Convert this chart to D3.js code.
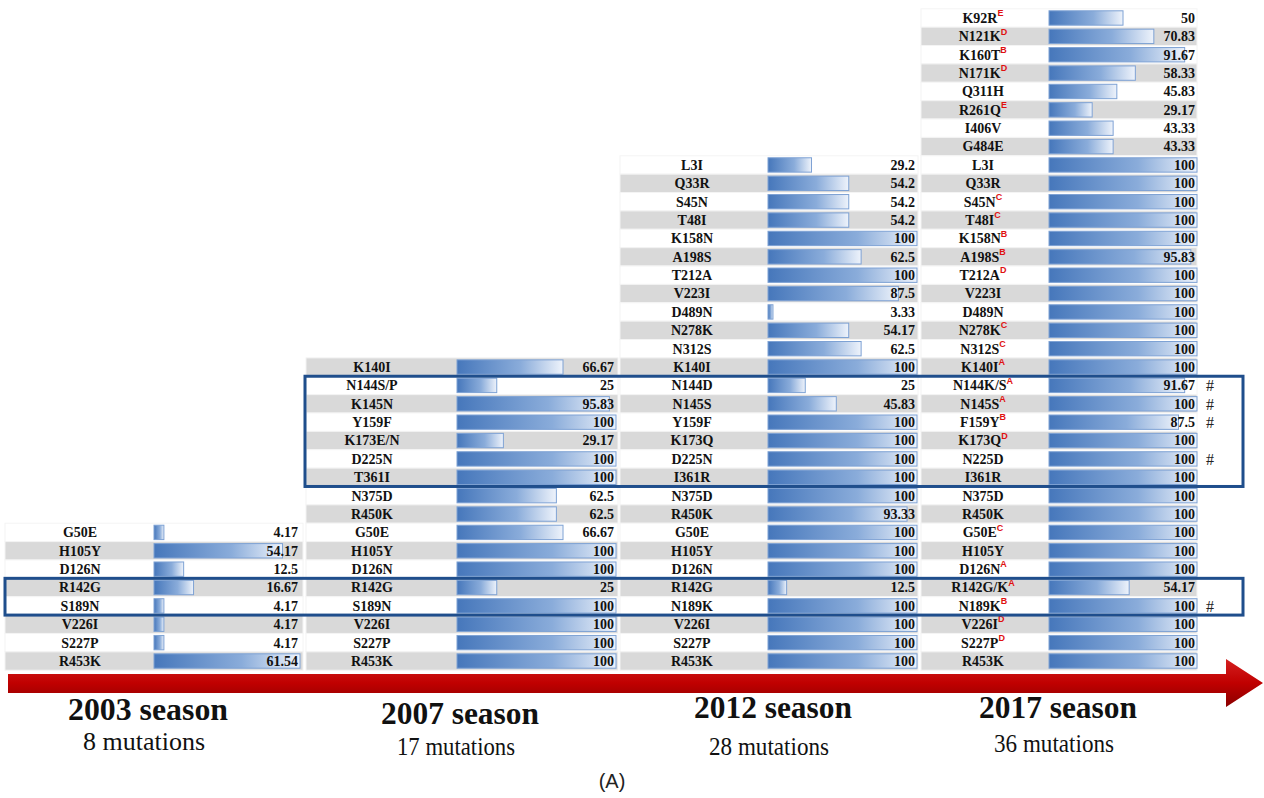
<!DOCTYPE html>
<html lang="en">
<head>
    <meta charset="UTF-8">
    <title>Mutations by season</title>
    <script src="https://d3js.org/d3.v7.min.js"></script>
    <style>
        body { margin: 0; background: #fff; }
        .lbl { font: bold 14px "Liberation Serif", "Times New Roman", serif; fill: #111; }
        .val { font: bold 14px "Liberation Serif", "Times New Roman", serif; fill: #111; }
        .sup { font: bold 9px "Liberation Sans", Arial, sans-serif; fill: #e01010; }
        .season { font: bold 31px "Liberation Serif", serif; fill: #111; }
        .count { font: 25px "Liberation Serif", serif; fill: #111; }
    </style>
</head>
<body>
<div id="chart"></div>
<script>
// ---- data ----
var seasons = ["2003 season", "2007 season", "2012 season", "2017 season"];
var mutationCounts = ["8 mutations", "17 mutations", "28 mutations", "36 mutations"];

var labels2003 = ["G50E", "H105Y", "D126N", "R142G", "S189N", "V226I", "S227P", "R453K"];
var values2003 = [4.17, 54.17, 12.5, 16.67, 4.17, 4.17, 4.17, 61.54];

var labels2007 = ["K140I", "N144S/P", "K145N", "Y159F", "K173E/N", "D225N", "T361I", "N375D", "R450K",
    "G50E", "H105Y", "D126N", "R142G", "S189N", "V226I", "S227P", "R453K"];
var values2007 = [66.67, 25, 95.83, 100, 29.17, 100, 100, 62.5, 62.5, 66.67, 100, 100, 25, 100, 100, 100, 100];

var labels2012 = ["L3I", "Q33R", "S45N", "T48I", "K158N", "A198S", "T212A", "V223I", "D489N", "N278K", "N312S",
    "K140I", "N144D", "N145S", "Y159F", "K173Q", "D225N", "I361R", "N375D", "R450K", "G50E", "H105Y", "D126N",
    "R142G", "N189K", "V226I", "S227P", "R453K"];
var values2012 = [29.2, 54.2, 54.2, 54.2, 100, 62.5, 100, 87.5, 3.33, 54.17, 62.5, 100, 25, 45.83, 100, 100, 100,
    100, 100, 93.33, 100, 100, 100, 12.5, 100, 100, 100, 100];

var labels2017 = ["K92R", "N121K", "K160T", "N171K", "Q311H", "R261Q", "I406V", "G484E", "L3I", "Q33R", "S45N",
    "T48I", "K158N", "A198S", "T212A", "V223I", "D489N", "N278K", "N312S", "K140I", "N144K/S", "N145S", "F159Y",
    "K173Q", "N225D", "I361R", "N375D", "R450K", "G50E", "H105Y", "D126N", "R142G/K", "N189K", "V226I", "S227P", "R453K"];
var values2017 = [50, 70.83, 91.67, 58.33, 45.83, 29.17, 43.33, 43.33, 100, 100, 100, 100, 100, 95.83, 100, 100,
    100, 100, 100, 100, 91.67, 100, 87.5, 100, 100, 100, 100, 100, 100, 100, 100, 54.17, 100, 100, 100, 100];
var sites2017 = ["E", "D", "B", "D", "", "E", "", "", "", "", "C", "C", "B", "B", "D", "", "", "C", "C", "A",
    "A", "A", "B", "D", "", "", "", "", "C", "", "A", "A", "B", "D", "D", ""];
var hashed2017 = ["N144K/S", "N145S", "F159Y", "N225D", "N189K"];

// highlight boxes: first/last 2017 row, first season column covered
var boxRows = [["N144K/S", "I361R"], ["R142G/K", "N189K"]];
var boxFirstSeason = [1, 0];

// ---- layout ----
var W = 1264, H = 798;
var cols = [
    {x0: 5,   x1: 303,  labelX: 80,  barX: 154,  barW: 146},
    {x0: 306, x1: 618,  labelX: 372, barX: 457,  barW: 159},
    {x0: 620, x1: 918,  labelX: 692, barX: 768,  barW: 149},
    {x0: 921, x1: 1197, labelX: 983, barX: 1049, barW: 148}
];
var colData = [
    {labels: labels2003, values: values2003},
    {labels: labels2007, values: values2007},
    {labels: labels2012, values: values2012},
    {labels: labels2017, values: values2017, sites: sites2017}
];
var nSlots = labels2017.length;

var svg = d3.select("#chart").append("svg")
    .attr("width", W).attr("height", H);

var defs = svg.append("defs");
var grad = defs.append("linearGradient").attr("id", "barGrad")
    .attr("x1", "0%").attr("x2", "100%").attr("y1", "0%").attr("y2", "0%");
grad.append("stop").attr("offset", "0%").attr("stop-color", "#4677bb");
grad.append("stop").attr("offset", "60%").attr("stop-color", "#8aacda");
grad.append("stop").attr("offset", "100%").attr("stop-color", "#eef3fb");

var arrowGrad = defs.append("linearGradient").attr("id", "arrowGrad")
    .attr("x1", "0%").attr("x2", "0%").attr("y1", "0%").attr("y2", "100%");
arrowGrad.append("stop").attr("offset", "0%").attr("stop-color", "#d42020");
arrowGrad.append("stop").attr("offset", "50%").attr("stop-color", "#c00000");
arrowGrad.append("stop").attr("offset", "100%").attr("stop-color", "#8a0000");

var y = d3.scaleBand()
    .domain(d3.range(nSlots))
    .range([8.8, 670.2]);

cols.forEach(function(c, ci) {
    var d = colData[ci];
    var n = d.labels.length;
    var offset = nSlots - n;
    var x = d3.scaleLinear()
        .domain([0, d3.max(d.values)])
        .range([0, c.barW]);

    var rows = d.labels.map(function(lab, i) {
        return {label: lab, value: d.values[i], site: d.sites ? d.sites[i] : "", slot: offset + i, fromBottom: n - 1 - i};
    });

    var g = svg.append("g");
    var row = g.selectAll("g.row").data(rows).enter().append("g").attr("class", "row");

    row.append("rect")
        .attr("x", c.x0)
        .attr("y", r => y(r.slot))
        .attr("width", c.x1 - c.x0)
        .attr("height", y.bandwidth())
        .attr("fill", r => r.fromBottom % 2 === 0 ? "#d9d9d9" : "#ffffff")
        .attr("stroke", "#f4f4f4")
        .attr("stroke-width", 1);

    row.append("rect")
        .attr("x", c.barX)
        .attr("y", r => y(r.slot) + 2)
        .attr("width", r => Math.max(3, x(r.value)))
        .attr("height", y.bandwidth() - 4)
        .attr("fill", "url(#barGrad)")
        .attr("stroke", "#7ea2d4")
        .attr("stroke-width", 1);

    var t = row.append("text")
        .attr("class", "lbl")
        .attr("x", c.labelX)
        .attr("y", r => y(r.slot) + y.bandwidth() / 2)
        .attr("dy", "0.35em")
        .attr("text-anchor", "middle");
    t.append("tspan").text(r => r.label);
    t.append("tspan")
        .attr("class", "sup")
        .attr("dy", "-0.75em")
        .text(r => r.site);

    row.append("text")
        .attr("class", "val")
        .attr("x", c.barX + c.barW - 2)
        .attr("y", r => y(r.slot) + y.bandwidth() / 2)
        .attr("dy", "0.35em")
        .attr("text-anchor", "end")
        .text(r => r.value);
});

// hash marks next to 2017 column
svg.selectAll("text.hash")
    .data(hashed2017)
    .enter().append("text")
    .attr("class", "hash")
    .attr("x", 1210)
    .attr("y", lab => y(labels2017.indexOf(lab)) + y.bandwidth() / 2)
    .attr("dy", "0.36em")
    .attr("text-anchor", "middle")
    .style("font", "16px 'Liberation Serif', serif")
    .style("fill", "#222")
    .text("#");

// highlight boxes
boxRows.forEach(function(br, bi) {
    var top = y(labels2017.indexOf(br[0]));
    var bottom = y(labels2017.indexOf(br[1])) + y.bandwidth();
    var left = cols[boxFirstSeason[bi]].x0 + (bi === 0 ? -1 : 0);
    svg.append("rect")
        .attr("x", left)
        .attr("y", top)
        .attr("width", 1243 - left)
        .attr("height", bottom - top)
        .attr("fill", "none")
        .attr("stroke", "#1f4e8c")
        .attr("stroke-width", 3);
});

// red timeline arrow
svg.append("path")
    .attr("d", "M8,674 L1226,674 L1226,659 L1263,683 L1226,707 L1226,693 L8,693 Z")
    .attr("fill", "url(#arrowGrad)");

// season captions
var captionX = [148, 460, 773, 1058];
var captionY = [720, 724, 718, 718];
var countY = [750, 755, 755, 752];
var seasonWidth = [160, 158, 158, 158];
var countWidth = [122, 118, 120, 120];
svg.selectAll("text.season")
    .data(seasons)
    .enter().append("text")
    .attr("class", "season")
    .attr("x", (s, i) => captionX[i] - seasonWidth[i] / 2)
    .attr("y", (s, i) => captionY[i])
    .attr("textLength", (s, i) => seasonWidth[i])
    .attr("lengthAdjust", "spacingAndGlyphs")
    .text(s => s);
svg.selectAll("text.count")
    .data(mutationCounts)
    .enter().append("text")
    .attr("class", "count")
    .attr("x", (s, i) => captionX[i] - 4 - countWidth[i] / 2)
    .attr("y", (s, i) => countY[i])
    .attr("textLength", (s, i) => countWidth[i])
    .attr("lengthAdjust", "spacingAndGlyphs")
    .text(s => s);

svg.append("text")
    .attr("x", 612)
    .attr("y", 788)
    .attr("text-anchor", "middle")
    .style("font", "20px 'Liberation Sans', Arial, sans-serif")
    .style("fill", "#222")
    .text("(A)");
</script>
</body>
</html>
